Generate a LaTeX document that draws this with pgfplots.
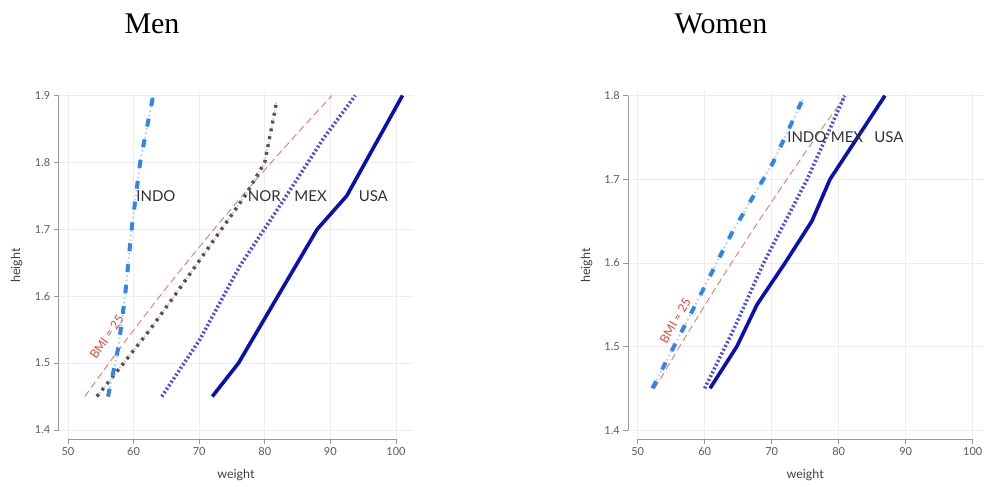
\documentclass[border=0pt]{standalone}
\usepackage{fontspec}
\setmainfont{Lato}
\newfontfamily\titlefont{Liberation Serif}
\usepackage{pgfplots}
\usepackage{pgfplotstable}
\pgfplotsset{compat=1.18}

\definecolor{cUSA}{RGB}{8,16,178}
\definecolor{cMEX}{RGB}{78,78,222}
\definecolor{cNOR}{RGB}{85,85,85}
\definecolor{cNORl}{RGB}{205,205,205}
\definecolor{cINDO}{RGB}{46,134,232}
\definecolor{cINDOl}{RGB}{170,205,245}
\definecolor{cBMI}{RGB}{232,120,100}
\definecolor{cBMIt}{RGB}{226,70,48}
\definecolor{ctxt}{RGB}{50,50,50}

% Men
\pgfplotstableread{
w h
72 1.45
76 1.50
82 1.60
88 1.70
92.5 1.75
101 1.90
}\menUSA
\pgfplotstableread{
w h
64.3 1.45
70.1 1.535
76.2 1.645
82.3 1.735
88.9 1.835
93.8 1.90
}\menMEX
\pgfplotstableread{
w h
54.4 1.45
58.5 1.50
62.5 1.55
66.2 1.60
69.8 1.65
73.4 1.70
77.0 1.75
80.0 1.80
81.0 1.85
81.8 1.89
}\menNOR
\pgfplotstableread{
w h
56.1 1.45
57.2 1.50
57.7 1.525
58.7 1.60
59.7 1.70
61.0 1.80
63.0 1.90
}\menINDO
\pgfplotstableread{
w h
52.5625 1.45
56.25 1.50
60.0625 1.55
64 1.60
68.0625 1.65
72.25 1.70
76.5625 1.75
81 1.80
85.5625 1.85
90.25 1.90
}\menBMI
% Women
\pgfplotstableread{
w h
60.8 1.45
64.8 1.50
67.8 1.55
72.0 1.60
76.0 1.65
78.7 1.70
86.9 1.80
}\womUSA
\pgfplotstableread{
w h
60.0 1.45
64.3 1.52
68.8 1.60
75.3 1.70
80.9 1.80
}\womMEX
\pgfplotstableread{
w h
52.2 1.45
58.3 1.545
64.0 1.635
70.2 1.72
74.6 1.795
}\womINDO
\pgfplotstableread{
w h
52.5625 1.45
56.25 1.50
60.0625 1.55
64 1.60
68.0625 1.65
72.25 1.70
76.5625 1.75
81 1.80
}\womBMI

\pgfplotsset{
  stata/.style={
    scale only axis,
    axis line style={draw=none},
    tick align=outside, xtick pos=bottom, ytick pos=left,
    major tick length=5pt,
    tick style={draw=black!40, line width=0.6pt},
    grid=major, grid style={draw=black!7, line width=0.6pt},
    ticklabel style={font=\fontsize{11}{12}\selectfont, text=black!65},
    label style={font=\fontsize{12.5}{14}\selectfont, text=black!75},
    /pgf/number format/assume math mode=true,
    xtick={50,60,70,80,90,100},
    xmin=48.6,
    clip=false,
    xlabel=weight, ylabel=height,
  },
  bmi/.style={cBMI, line width=0.9pt, dash pattern=on 7pt off 4pt, no markers},
  usa/.style={cUSA, line width=3.6pt, no markers, line join=round},
  mex/.style={cMEX, line width=3.6pt, dash pattern=on 2pt off 2.2pt, no markers},
  norl/.style={cNORl, line width=1.8pt, dash pattern=on 1.5pt off 6.5pt, dash phase=-4pt, no markers},
  nor/.style={cNOR, line width=3.4pt, dash pattern=on 3pt off 5pt, no markers},
  indol/.style={cINDOl, line width=2pt, dash pattern=on 1.5pt off 3pt, no markers},
  indo/.style={cINDO, line width=4pt, dash pattern=on 8pt off 13pt, no markers},
}
\tikzset{
  lab/.style={font=\fontsize{15}{16}\selectfont, text=ctxt, anchor=west, inner sep=0pt},
}

\begin{document}
\begin{tikzpicture}
\useasboundingbox (0,0) rectangle (985pt,487pt);
\node[font=\titlefont\fontsize{30}{32}\selectfont, anchor=base] at (152pt,453.7pt) {Men};
\node[font=\titlefont\fontsize{30}{32}\selectfont, anchor=base] at (721pt,453.7pt) {Women};

% ---------------- Men
\begin{axis}[stata,
  at={(58.8pt,48pt)}, anchor=south west,
  width=354.2pt, height=346.9pt,
  xmax=102.6, ymin=1.3865, ymax=1.905,
  ytick={1.4,1.5,1.6,1.7,1.8,1.9},
  xlabel style={at={(axis description cs:0.5,-0.104)}, anchor=center},
  ylabel style={at={(axis description cs:-0.119,0.5)}, anchor=center},
]
\draw[black!40, line width=0.7pt] (axis cs:50,1.3865) -- (axis cs:100,1.3865);
\draw[black!40, line width=0.7pt] (axis cs:48.6,1.4) -- (axis cs:48.6,1.9);
\addplot[bmi] table[x=w,y=h] {\menBMI};
\addplot[norl] table[x=w,y=h] {\menNOR};
\addplot[nor] table[x=w,y=h] {\menNOR};
\addplot[indol] table[x=w,y=h] {\menINDO};
\addplot[indo] table[x=w,y=h] {\menINDO};
\addplot[mex] table[x=w,y=h] {\menMEX};
\addplot[usa] table[x=w,y=h] {\menUSA};
\node[lab] at (axis cs:60.4,1.75) {INDO};
\node[lab] at (axis cs:77.4,1.75) {NOR};
\node[lab] at (axis cs:84.5,1.75) {MEX};
\node[lab] at (axis cs:94.3,1.75) {USA};
\node[font=\fontsize{12}{13}\selectfont, text=cBMIt, rotate=55, inner sep=0pt] at (axis cs:55.9,1.539) {BMI = 25};
\end{axis}

% ---------------- Women
\begin{axis}[stata,
  at={(628.3pt,47.7pt)}, anchor=south west,
  width=355.8pt, height=347.8pt,
  xmax=101.7, ymin=1.389, ymax=1.805,
  ytick={1.4,1.5,1.6,1.7,1.8},
  xlabel style={at={(axis description cs:0.497,-0.103)}, anchor=center},
  ylabel style={at={(axis description cs:-0.117,0.5)}, anchor=center},
]
\draw[black!40, line width=0.7pt] (axis cs:50,1.389) -- (axis cs:100,1.389);
\draw[black!40, line width=0.7pt] (axis cs:48.6,1.4) -- (axis cs:48.6,1.8);
\addplot[bmi] table[x=w,y=h] {\womBMI};
\addplot[indol] table[x=w,y=h] {\womINDO};
\addplot[indo] table[x=w,y=h] {\womINDO};
\addplot[mex] table[x=w,y=h] {\womMEX};
\addplot[usa] table[x=w,y=h] {\womUSA};
\node[lab] at (axis cs:72.3,1.75) {INDO};
\node[lab] at (axis cs:78.8,1.75) {MEX};
\node[lab] at (axis cs:85.3,1.75) {USA};
\node[font=\fontsize{12}{13}\selectfont, text=cBMIt, rotate=60, inner sep=0pt] at (axis cs:55.6,1.531) {BMI = 25};
\end{axis}
\end{tikzpicture}
\end{document}
